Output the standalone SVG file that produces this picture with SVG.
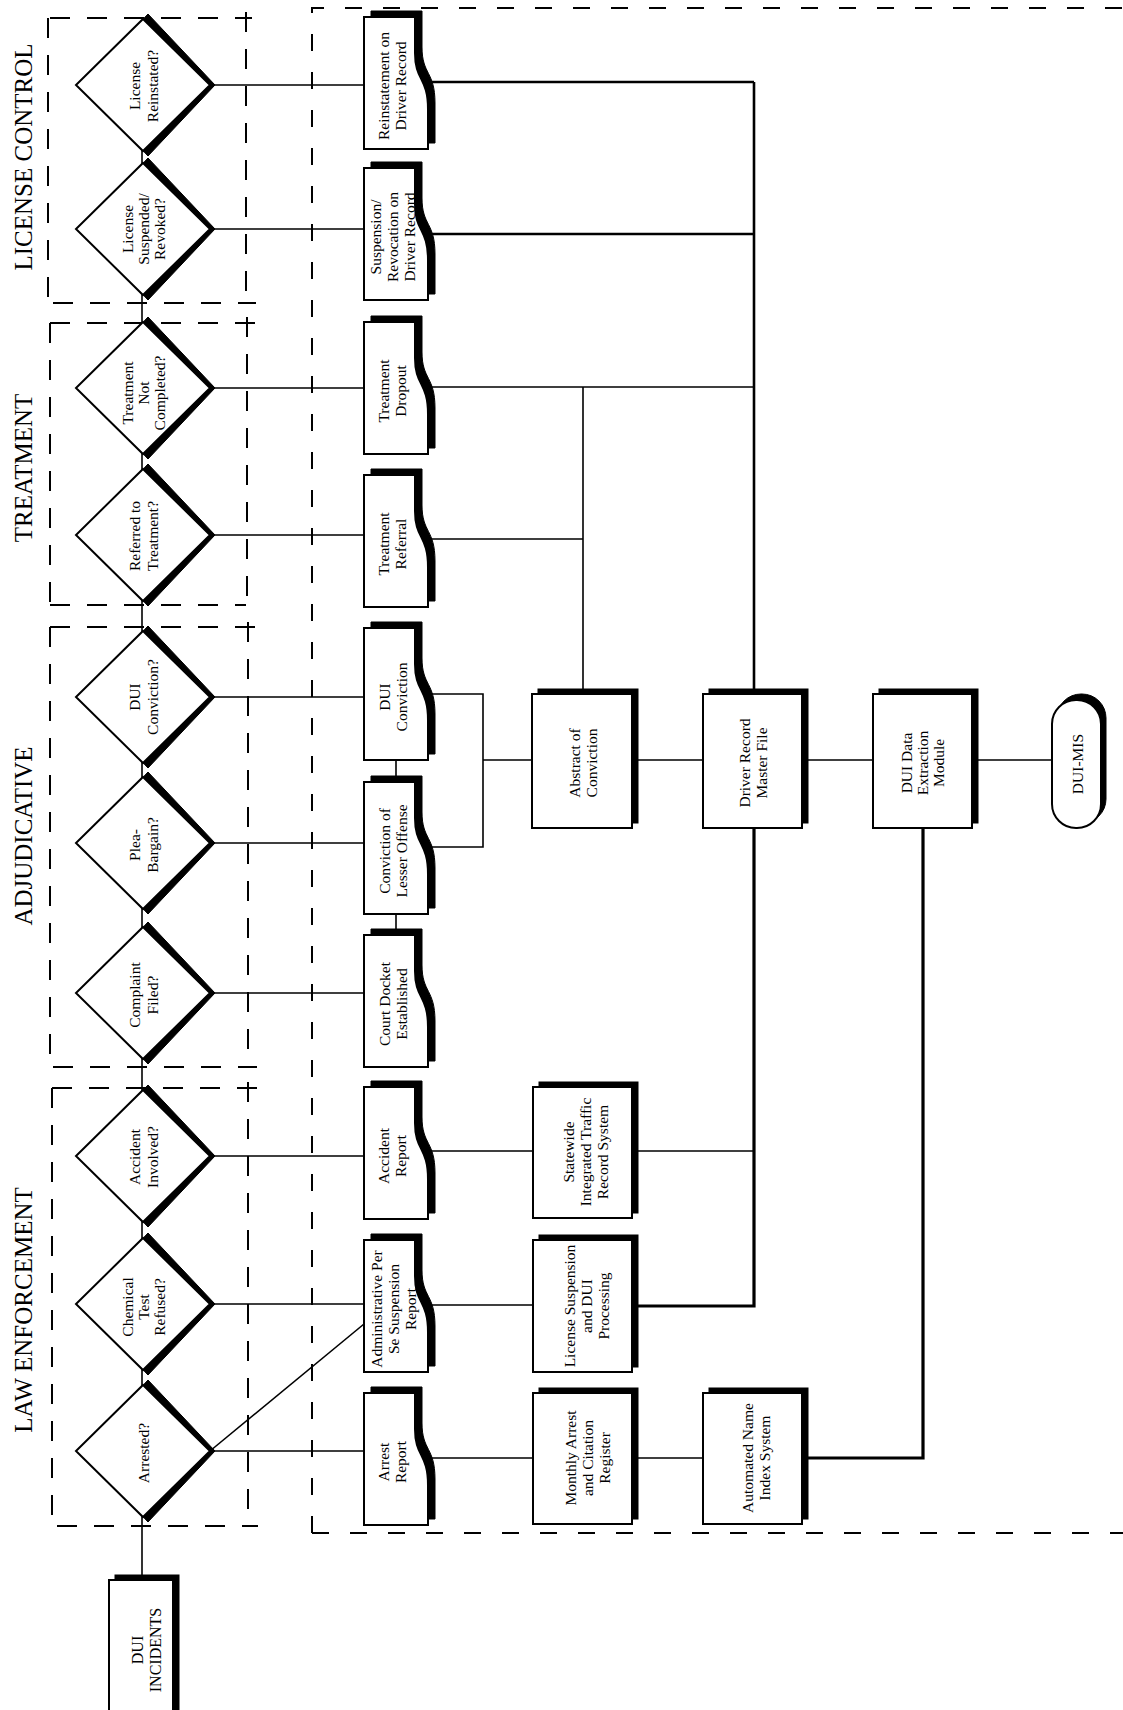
<svg xmlns="http://www.w3.org/2000/svg" xmlns:xlink="http://www.w3.org/1999/xlink" width="1123" height="1710" viewBox="0 0 1123 1710">
<style>
.t{font-family:"Liberation Serif","Times New Roman",serif;font-size:15.5px;text-anchor:middle;dominant-baseline:central;fill:#000}
.ti{font-size:25px}
.big{font-size:16px}
.sh{fill:#000;stroke:#000;stroke-width:1}
.bd{fill:#fff;stroke:#000;stroke-width:2}
.c{stroke:#000;stroke-width:1.6;fill:none}
.ck{stroke-width:2.6}
.cx{stroke-width:3.2}
.ds{stroke:#000;stroke-width:2;fill:none;stroke-dasharray:20 17}
.db{stroke:#000;stroke-width:2;fill:none;stroke-dasharray:17 21}
</style>
<defs>
<polygon id="dmS" points="5,-71 72,0 5,71 -62,0"/>
<polygon id="dmB" points="0,-66 67,0 0,66 -67,0"/>
<path id="doc" d="M0,0 H51 V36 C51,64 64,60 64,92 V132 H0 Z"/>
</defs>
<rect width="1123" height="1710" fill="#fff"/>

<g id="frames">
<path class="db" d="M312,1533 V8 H1130"/>
<path class="db" d="M312,1533 H1130"/>
<path class="ds" d="M50,18 H252 M48,18 V300 M246,12 V300 M53,303 H256"/>
<path class="ds" d="M50,323 H255 M50,323 V605 M247,317 V600 M50,605 H246"/>
<path class="ds" d="M50,627 H257 M50,627 V1063 M248,622 V1063 M53,1067 H257"/>
<path class="ds" d="M52,1088 H257 M52,1088 V1520 M248,1082 V1520 M57,1526 H258"/>
</g>

<g id="titles">
<text class="t ti" transform="translate(23,157) rotate(-90)">LICENSE CONTROL</text>
<text class="t ti" transform="translate(23,468) rotate(-90)">TREATMENT</text>
<text class="t ti" transform="translate(23,836) rotate(-90)">ADJUDICATIVE</text>
<text class="t ti" transform="translate(23,1310) rotate(-90)">LAW ENFORCEMENT</text>
</g>

<g id="connectors">
<path class="c" d="M142,150 V1580"/>
<path class="c" d="M143,85 H396 M143,229 H396 M143,388 H396 M143,535 H396 M143,697 H396 M143,843 H396 M143,993 H396 M143,1156 H396 M143,1304 H396 M143,1451 H396"/>
<path class="c" d="M210,1451 L364,1324"/>
<path class="c ck" d="M420,82 H754 M420,234 H754 M754,82 V694"/>
<path class="c" d="M420,387 H754 M420,539 H583 M583,387 V694"/>
<path class="c" d="M420,694 H483 V847 H420 M483,760 H532"/>
<path class="c" d="M632,760 H1060"/>
<path class="c" d="M396,760 V782 M396,913 V935"/>
<path class="c cx" d="M754,828 V1306 H632"/>
<path class="c" d="M632,1151 H754"/>
<path class="c cx" d="M923,828 V1458 H802"/>
<path class="c" d="M420,1151 H533 M420,1305 H533 M420,1458 H533 M632,1458 H703"/>
</g>

<g id="d-reinstated">
<use xlink:href="#dmS" class="sh" transform="translate(143,85)"/>
<use xlink:href="#dmB" class="bd" transform="translate(143,85)"/>
<text class="t" transform="translate(143,86) rotate(-90)"><tspan x="0" y="-9">License</tspan><tspan x="0" y="9">Reinstated?</tspan></text>
</g>
<g id="d-suspended">
<use xlink:href="#dmS" class="sh" transform="translate(143,229)"/>
<use xlink:href="#dmB" class="bd" transform="translate(143,229)"/>
<text class="t" transform="translate(143,229) rotate(-90)"><tspan x="0" y="-16">License</tspan><tspan x="0" y="0">Suspended/</tspan><tspan x="0" y="16">Revoked?</tspan></text>
</g>
<g id="d-notcompleted">
<use xlink:href="#dmS" class="sh" transform="translate(143,388)"/>
<use xlink:href="#dmB" class="bd" transform="translate(143,388)"/>
<text class="t" transform="translate(143,393) rotate(-90)"><tspan x="0" y="-16">Treatment</tspan><tspan x="0" y="0">Not</tspan><tspan x="0" y="16">Completed?</tspan></text>
</g>
<g id="d-referred">
<use xlink:href="#dmS" class="sh" transform="translate(143,535)"/>
<use xlink:href="#dmB" class="bd" transform="translate(143,535)"/>
<text class="t" transform="translate(143,536) rotate(-90)"><tspan x="0" y="-9">Referred to</tspan><tspan x="0" y="9">Treatment?</tspan></text>
</g>
<g id="d-duiconviction">
<use xlink:href="#dmS" class="sh" transform="translate(143,697)"/>
<use xlink:href="#dmB" class="bd" transform="translate(143,697)"/>
<text class="t" transform="translate(143,697) rotate(-90)"><tspan x="0" y="-9">DUI</tspan><tspan x="0" y="9">Conviction?</tspan></text>
</g>
<g id="d-plea">
<use xlink:href="#dmS" class="sh" transform="translate(143,843)"/>
<use xlink:href="#dmB" class="bd" transform="translate(143,843)"/>
<text class="t" transform="translate(143,845) rotate(-90)"><tspan x="0" y="-9">Plea-</tspan><tspan x="0" y="9">Bargain?</tspan></text>
</g>
<g id="d-complaint">
<use xlink:href="#dmS" class="sh" transform="translate(143,993)"/>
<use xlink:href="#dmB" class="bd" transform="translate(143,993)"/>
<text class="t" transform="translate(143,995) rotate(-90)"><tspan x="0" y="-9">Complaint</tspan><tspan x="0" y="9">Filed?</tspan></text>
</g>
<g id="d-accident">
<use xlink:href="#dmS" class="sh" transform="translate(143,1156)"/>
<use xlink:href="#dmB" class="bd" transform="translate(143,1156)"/>
<text class="t" transform="translate(143,1157) rotate(-90)"><tspan x="0" y="-9">Accident</tspan><tspan x="0" y="9">Involved?</tspan></text>
</g>
<g id="d-chemical">
<use xlink:href="#dmS" class="sh" transform="translate(143,1304)"/>
<use xlink:href="#dmB" class="bd" transform="translate(143,1304)"/>
<text class="t" transform="translate(143,1307) rotate(-90)"><tspan x="0" y="-16">Chemical</tspan><tspan x="0" y="0">Test</tspan><tspan x="0" y="16">Refused?</tspan></text>
</g>
<g id="d-arrested">
<use xlink:href="#dmS" class="sh" transform="translate(143,1451)"/>
<use xlink:href="#dmB" class="bd" transform="translate(143,1451)"/>
<text class="t" transform="translate(143,1453) rotate(-90)">Arrested?</text>
</g>

<g id="doc-reinstatement">
<use xlink:href="#doc" class="sh" transform="translate(371,11)"/>
<use xlink:href="#doc" class="bd" transform="translate(364,17)"/>
<text class="t" transform="translate(391,86) rotate(-90)"><tspan x="0" y="-8.5">Reinstatement on</tspan><tspan x="0" y="8.5">Driver Record</tspan></text>
</g>
<g id="doc-suspension">
<use xlink:href="#doc" class="sh" transform="translate(371,162)"/>
<use xlink:href="#doc" class="bd" transform="translate(364,168)"/>
<text class="t" transform="translate(392,237) rotate(-90)"><tspan x="0" y="-17">Suspension/</tspan><tspan x="0" y="0">Revocation on</tspan><tspan x="0" y="17">Driver Record</tspan></text>
</g>
<g id="doc-dropout">
<use xlink:href="#doc" class="sh" transform="translate(371,316)"/>
<use xlink:href="#doc" class="bd" transform="translate(364,322)"/>
<text class="t" transform="translate(391,391) rotate(-90)"><tspan x="0" y="-8.5">Treatment</tspan><tspan x="0" y="8.5">Dropout</tspan></text>
</g>
<g id="doc-referral">
<use xlink:href="#doc" class="sh" transform="translate(371,469)"/>
<use xlink:href="#doc" class="bd" transform="translate(364,475)"/>
<text class="t" transform="translate(391,544) rotate(-90)"><tspan x="0" y="-8.5">Treatment</tspan><tspan x="0" y="8.5">Referral</tspan></text>
</g>
<g id="doc-duiconviction">
<use xlink:href="#doc" class="sh" transform="translate(371,622)"/>
<use xlink:href="#doc" class="bd" transform="translate(364,628)"/>
<text class="t" transform="translate(392,697) rotate(-90)"><tspan x="0" y="-8.5">DUI</tspan><tspan x="0" y="8.5">Conviction</tspan></text>
</g>
<g id="doc-lesser">
<use xlink:href="#doc" class="sh" transform="translate(371,776)"/>
<use xlink:href="#doc" class="bd" transform="translate(364,782)"/>
<text class="t" transform="translate(392,851) rotate(-90)"><tspan x="0" y="-8.5">Conviction of</tspan><tspan x="0" y="8.5">Lesser Offense</tspan></text>
</g>
<g id="doc-docket">
<use xlink:href="#doc" class="sh" transform="translate(371,929)"/>
<use xlink:href="#doc" class="bd" transform="translate(364,935)"/>
<text class="t" transform="translate(392,1004) rotate(-90)"><tspan x="0" y="-8.5">Court Docket</tspan><tspan x="0" y="8.5">Established</tspan></text>
</g>
<g id="doc-accident">
<use xlink:href="#doc" class="sh" transform="translate(371,1081)"/>
<use xlink:href="#doc" class="bd" transform="translate(364,1087)"/>
<text class="t" transform="translate(391,1156) rotate(-90)"><tspan x="0" y="-8.5">Accident</tspan><tspan x="0" y="8.5">Report</tspan></text>
</g>
<g id="doc-perse">
<use xlink:href="#doc" class="sh" transform="translate(371,1234)"/>
<use xlink:href="#doc" class="bd" transform="translate(364,1240)"/>
<text class="t" transform="translate(393,1309) rotate(-90)"><tspan x="0" y="-17">Administrative Per</tspan><tspan x="0" y="0">Se Suspension</tspan><tspan x="0" y="17">Report</tspan></text>
</g>
<g id="doc-arrest">
<use xlink:href="#doc" class="sh" transform="translate(371,1387)"/>
<use xlink:href="#doc" class="bd" transform="translate(364,1393)"/>
<text class="t" transform="translate(391,1462) rotate(-90)"><tspan x="0" y="-8.5">Arrest</tspan><tspan x="0" y="8.5">Report</tspan></text>
</g>

<g id="box-abstract">
<rect class="sh" x="538" y="689" width="100" height="134"/>
<rect class="bd" x="532" y="694" width="100" height="134"/>
<text class="t" transform="translate(582,763) rotate(-90)"><tspan x="0" y="-8.5">Abstract of</tspan><tspan x="0" y="8.5">Conviction</tspan></text>
</g>
<g id="box-drivermaster">
<rect class="sh" x="709" y="689" width="99" height="134"/>
<rect class="bd" x="703" y="694" width="99" height="134"/>
<text class="t" transform="translate(752,763) rotate(-90)"><tspan x="0" y="-8.5">Driver Record</tspan><tspan x="0" y="8.5">Master File</tspan></text>
</g>
<g id="box-extraction">
<rect class="sh" x="879" y="689" width="99" height="134"/>
<rect class="bd" x="873" y="694" width="99" height="134"/>
<text class="t" transform="translate(922,763) rotate(-90)"><tspan x="0" y="-16">DUI Data</tspan><tspan x="0" y="0">Extraction</tspan><tspan x="0" y="16">Module</tspan></text>
</g>
<g id="term-duimis">
<rect class="sh" x="1057" y="694" width="49" height="129" rx="24" ry="24"/>
<rect class="bd" x="1052" y="700" width="49" height="128" rx="24" ry="24"/>
<text class="t" transform="translate(1077,764) rotate(-90)">DUI-MIS</text>
</g>
<g id="box-statewide">
<rect class="sh" x="539" y="1082" width="99" height="131"/>
<rect class="bd" x="533" y="1087" width="99" height="131"/>
<text class="t" transform="translate(585,1152) rotate(-90)"><tspan x="0" y="-17">Statewide</tspan><tspan x="0" y="0">Integrated Traffic</tspan><tspan x="0" y="17">Record System</tspan></text>
</g>
<g id="box-licsusp">
<rect class="sh" x="539" y="1235" width="99" height="132"/>
<rect class="bd" x="533" y="1240" width="99" height="132"/>
<text class="t" transform="translate(586,1306) rotate(-90)"><tspan x="0" y="-17">License Suspension</tspan><tspan x="0" y="0">and DUI</tspan><tspan x="0" y="17">Processing</tspan></text>
</g>
<g id="box-monthly">
<rect class="sh" x="539" y="1388" width="99" height="131"/>
<rect class="bd" x="533" y="1393" width="99" height="131"/>
<text class="t" transform="translate(587,1458) rotate(-90)"><tspan x="0" y="-17">Monthly Arrest</tspan><tspan x="0" y="0">and Citation</tspan><tspan x="0" y="17">Register</tspan></text>
</g>
<g id="box-ani">
<rect class="sh" x="709" y="1388" width="99" height="131"/>
<rect class="bd" x="703" y="1393" width="99" height="131"/>
<text class="t" transform="translate(755,1458) rotate(-90)"><tspan x="0" y="-8.5">Automated Name</tspan><tspan x="0" y="8.5">Index System</tspan></text>
</g>
<g id="box-incidents">
<rect class="sh" x="115" y="1575" width="64" height="150"/>
<rect class="bd" x="109" y="1580" width="64" height="150"/>
<text class="t big" transform="translate(146,1650) rotate(-90)"><tspan x="0" y="-9">DUI</tspan><tspan x="0" y="9">INCIDENTS</tspan></text>
</g>
</svg>
